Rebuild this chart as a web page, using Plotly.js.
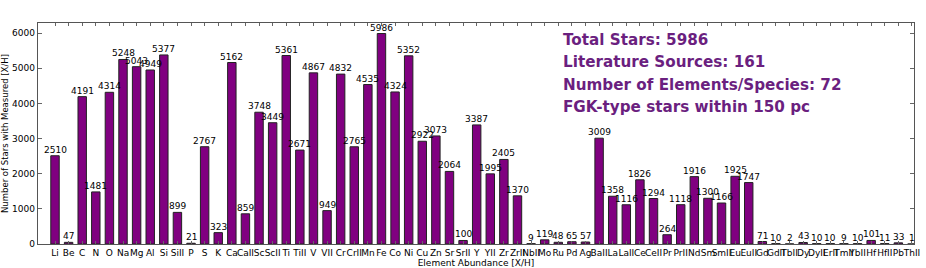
<!DOCTYPE html>
<html>
<head>
<meta charset="utf-8">
<script src="https://cdn.plot.ly/plotly-3.0.1.min.js"></script>
<style>html,body{margin:0;padding:0;background:#fff;}#chart{width:926px;height:268px;}</style>
</head>
<body>
<div id="chart"></div>
<script>
const elements = ["Li","Be","C","N","O","Na","Mg","Al","Si","SiII","P","S","K","Ca","CaII","Sc","ScII","Ti","TiII","V","VII","Cr","CrII","Mn","Fe","Co","Ni","Cu","Zn","Sr","SrII","Y","YII","Zr","ZrII","NbII","Mo","Ru","Pd","Ag","BaII","La","LaII","Ce","CeII","Pr","PrII","Nd","Sm","SmII","Eu","EuII","Gd","GdII","TbII","Dy","DyII","ErII","TmII","YbII","Hf","HfII","Pb","ThII"];
const starCounts = [2510,47,4191,1481,4314,5248,5043,4949,5377,899,21,2767,323,5162,859,3748,3449,5361,2671,4867,949,4832,2765,4535,5986,4324,5352,2922,3073,2064,100,3387,1995,2405,1370,9,119,48,65,57,3009,1358,1116,1826,1294,264,1118,1916,1300,1166,1925,1747,71,10,2,43,10,10,9,10,101,11,33,1];
const infoLines = ["Total Stars: 5986","Literature Sources: 161","Number of Elements/Species: 72","FGK-type stars within 150 pc"];
const yTicks = [0,1000,2000,3000,4000,5000,6000];

const xpos = elements.map((_, i) => i);
const trace = {
  type: "bar",
  x: xpos,
  y: starCounts,
  width: 0.62,
  marker: {color: "#800080", line: {color: "#222", width: 1}},
  hoverinfo: "x+y"
};

const barLabels = starCounts.map((v, i) => ({
  xref: "x", yref: "y", x: i, y: v,
  xanchor: "center", yanchor: "bottom",
  text: String(v), showarrow: false, borderpad: 0, yshift: 0,
  font: {family: "DejaVu Sans", size: 9, color: "#000"}
}));

const infoY = [40, 62, 85, 107];
const infoNotes = infoLines.map((t, i) => ({
  xref: "paper", yref: "paper",
  x: (561 - 38) / 876, y: 1 - (infoY[i] - 23) / 221,
  xanchor: "left", yanchor: "middle",
  text: "<b>" + t + "</b>", showarrow: false,
  font: {family: "DejaVu Sans", size: 15.2, color: "#6B1F7F"}
}));

const ymax = Math.max(...starCounts) * 1.05;
const layout = {
  width: 926, height: 268,
  margin: {l: 38, r: 12, t: 23, b: 24},
  paper_bgcolor: "#fff", plot_bgcolor: "#fff",
  showlegend: false,
  bargap: 0,
  xaxis: {
    range: [-1.25, 63.15],
    tickmode: "array", tickvals: xpos, ticktext: elements,
    tickangle: 0,
    ticks: "inside", ticklen: 3, tickcolor: "#666",
    showline: true, linecolor: "#555", linewidth: 1.2, mirror: "ticks",
    showgrid: false, zeroline: false,
    tickfont: {family: "DejaVu Sans", size: 9, color: "#000"},
    title: {text: "Element Abundance [X/H]", font: {family: "DejaVu Sans", size: 9, color: "#000"}, standoff: 3}
  },
  yaxis: {
    range: [0, ymax],
    tickmode: "array", tickvals: yTicks, ticktext: yTicks.map(String),
    ticks: "inside", ticklen: 4, tickcolor: "#666",
    showline: true, linecolor: "#555", linewidth: 1.2, mirror: "ticks",
    showgrid: false, zeroline: false,
    tickfont: {family: "DejaVu Sans", size: 9, color: "#000"},
    title: {text: "Number of Stars with Measured [X/H]", font: {family: "DejaVu Sans", size: 8.5, color: "#000"}, standoff: 4}
  },
  annotations: barLabels.concat(infoNotes)
};

Plotly.newPlot("chart", [trace], layout, {displayModeBar: false, staticPlot: true});
</script>
</body>
</html>
